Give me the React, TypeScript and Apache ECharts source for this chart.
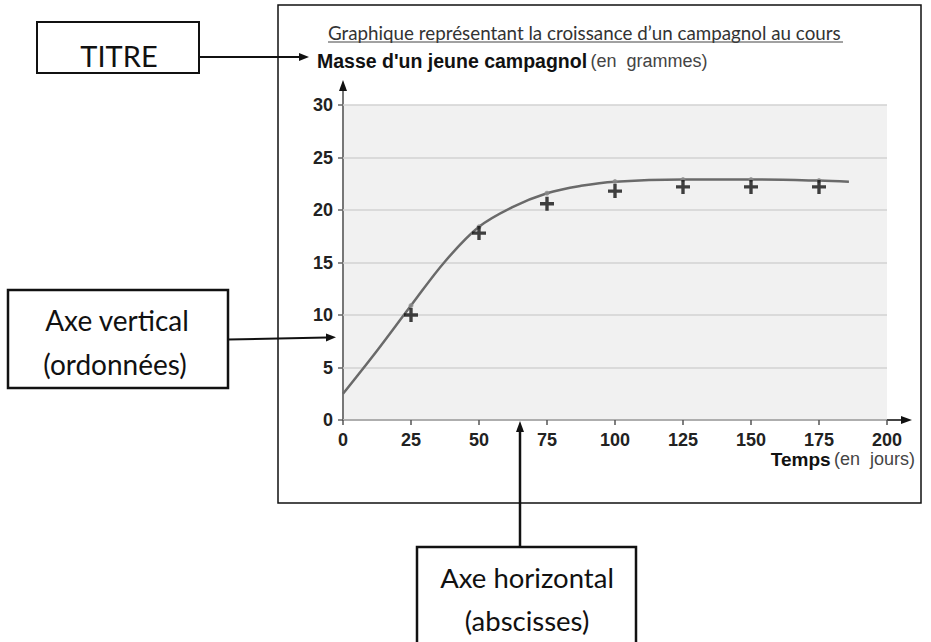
import React, { useEffect, useRef } from "react";
import * as echarts from "echarts";

// Measured points (crosses)
const days = [25, 50, 75, 100, 125, 150, 175];
const measuredMass = [10.0, 17.8, 20.6, 21.8, 22.2, 22.2, 22.2];

// Fitted growth curve
const curveDays = [0, 12.5, 25, 37.5, 50, 62.5, 75, 87.5, 100, 125, 150, 175, 186];
const curveMass = [2.5, 6.6, 10.9, 15.1, 18.4, 20.3, 21.6, 22.3, 22.7, 22.9, 22.9, 22.8, 22.7];
// Small dots drawn on the curve at the measurement days
const curveDotMass = [10.9, 18.4, 21.6, 22.7, 22.9, 22.9, 22.8];

const xMin = 0, xMax = 200, xStep = 25;
const yMin = 0, yMax = 30, yStep = 5;

const titleText = "Graphique représentant la croissance d’un campagnol au cours";
const yName = "Masse d'un jeune campagnol";
const yUnit = "(en  grammes)";
const xName = "Temps";
const xUnit = "(en  jours)";

const CROSS = "path://M3.8,0H6.2V3.8H10V6.2H6.2V10H3.8V6.2H0V3.8H3.8Z";
const ANNOT_FONT = "Lato, 'Open Sans', sans-serif";
const AXIS_FONT = "'Liberation Sans', Arial, sans-serif";

export default function App() {
  const ref = useRef<HTMLDivElement>(null);
  useEffect(() => {
    if (!ref.current) return;
    const chart = echarts.init(ref.current, undefined, { renderer: "svg" });
    const arrowHead = (pts: number[][], fill = "#111") => ({
      type: "polygon",
      shape: { points: pts },
      style: { fill },
      silent: true,
    });
    chart.setOption({
      animation: false,
      backgroundColor: "#ffffff",
      grid: {
        left: 343,
        right: 44,
        top: 105,
        bottom: 222,
        show: true,
        backgroundColor: "#f1f1f1",
        borderWidth: 0,
      },
      xAxis: {
        type: "value",
        min: xMin,
        max: xMax,
        interval: xStep,
        axisLine: { show: false },
        axisTick: { show: true, length: 5, lineStyle: { color: "#555", width: 1.5 } },
        splitLine: { show: false },
        axisLabel: {
          margin: 11,
          color: "#222",
          fontFamily: AXIS_FONT,
          fontWeight: "bold",
          fontSize: 18,
        },
      },
      yAxis: {
        type: "value",
        min: yMin,
        max: yMax,
        interval: yStep,
        axisLine: { show: false },
        axisTick: { show: true, length: 5, lineStyle: { color: "#666", width: 1.5 } },
        splitLine: { show: true, lineStyle: { color: "#d2d2d2", width: 1.5 } },
        axisLabel: {
          margin: 10,
          color: "#222",
          fontFamily: AXIS_FONT,
          fontWeight: "bold",
          fontSize: 18,
        },
      },
      series: [
        {
          type: "line",
          data: curveDays.map((d, i) => [d, curveMass[i]]),
          smooth: 0.35,
          showSymbol: false,
          lineStyle: { color: "#6a6a6a", width: 2.5 },
          z: 2,
        },
        {
          type: "scatter",
          data: days.map((d, i) => [d, curveDotMass[i]]),
          symbol: "circle",
          symbolSize: 5,
          itemStyle: { color: "#8a8a8a" },
          z: 3,
        },
        {
          type: "scatter",
          data: days.map((d, i) => [d, measuredMass[i]]),
          symbol: CROSS,
          symbolSize: 14,
          itemStyle: { color: "#111" },
          z: 4,
        },
      ],
      graphic: [
        // outer frame around the chart
        {
          type: "rect",
          shape: { x: 278, y: 5, width: 643, height: 498 },
          style: { fill: "none", stroke: "#111", lineWidth: 1.5 },
          z: 0,
        },
        // title
        {
          type: "text",
          x: 328,
          y: 32,
          style: {
            text: titleText,
            font: `18.8px ${ANNOT_FONT}`,
            fill: "#333",
            verticalAlign: "middle",
          },
        },
        {
          type: "line",
          shape: { x1: 328, y1: 42, x2: 843, y2: 42 },
          style: { stroke: "#444", lineWidth: 1 },
        },
        // y axis name
        {
          type: "text",
          x: 317,
          y: 61,
          style: {
            text: `{b|${yName}} {n|${yUnit}}`,
            verticalAlign: "middle",
            rich: {
              b: { fontFamily: AXIS_FONT, fontWeight: "bold", fontSize: 19.5, fill: "#111" },
              n: { fontFamily: AXIS_FONT, fontSize: 18, fill: "#444" },
            },
          },
        },
        // x axis name
        {
          type: "text",
          x: 915,
          y: 459,
          style: {
            text: `{b|${xName}} {n|${xUnit}}`,
            align: "right",
            verticalAlign: "middle",
            rich: {
              b: { fontFamily: AXIS_FONT, fontWeight: "bold", fontSize: 19, fill: "#111" },
              n: { fontFamily: AXIS_FONT, fontSize: 18, fill: "#444" },
            },
          },
        },
        // axes with arrows
        {
          type: "line",
          shape: { x1: 343, y1: 421, x2: 343, y2: 88 },
          style: { stroke: "#777", lineWidth: 2 },
        },
        arrowHead([[339, 91], [343, 80], [347, 91]]),
        {
          type: "line",
          shape: { x1: 342, y1: 420, x2: 903, y2: 420 },
          style: { stroke: "#444", lineWidth: 2 },
        },
        arrowHead([[901, 416], [912, 420], [901, 424]]),

        // Annotation: TITRE
        {
          type: "rect",
          shape: { x: 37, y: 22, width: 162, height: 51 },
          style: { fill: "#fff", stroke: "#111", lineWidth: 2 },
        },
        {
          type: "text",
          x: 119,
          y: 55,
          style: {
            text: "TITRE",
            font: `29px ${ANNOT_FONT}`,
            fill: "#111",
            align: "center",
            verticalAlign: "middle",
          },
        },
        {
          type: "line",
          shape: { x1: 199, y1: 57, x2: 300, y2: 57 },
          style: { stroke: "#111", lineWidth: 2 },
        },
        arrowHead([[299, 53], [309, 57], [299, 61]]),

        // Annotation: Axe vertical
        {
          type: "rect",
          shape: { x: 8, y: 290, width: 220, height: 98 },
          style: { fill: "#fff", stroke: "#111", lineWidth: 2.5 },
        },
        {
          type: "text",
          x: 117,
          y: 320,
          style: {
            text: "Axe vertical",
            font: `28px ${ANNOT_FONT}`,
            fill: "#111",
            align: "center",
            verticalAlign: "middle",
          },
        },
        {
          type: "text",
          x: 115,
          y: 364,
          style: {
            text: "(ordonnées)",
            font: `28px ${ANNOT_FONT}`,
            fill: "#111",
            align: "center",
            verticalAlign: "middle",
          },
        },
        {
          type: "line",
          shape: { x1: 228, y1: 339.5, x2: 327, y2: 337.5 },
          style: { stroke: "#111", lineWidth: 2 },
        },
        arrowHead([[326, 333.5], [336, 337.3], [326, 341.5]]),

        // Annotation: Axe horizontal
        {
          type: "rect",
          shape: { x: 417, y: 547, width: 219, height: 110 },
          style: { fill: "#fff", stroke: "#111", lineWidth: 2.5 },
        },
        {
          type: "text",
          x: 527,
          y: 577,
          style: {
            text: "Axe horizontal",
            font: `27.5px ${ANNOT_FONT}`,
            fill: "#111",
            align: "center",
            verticalAlign: "middle",
          },
        },
        {
          type: "text",
          x: 527,
          y: 620,
          style: {
            text: "(abscisses)",
            font: `27.5px ${ANNOT_FONT}`,
            fill: "#111",
            align: "center",
            verticalAlign: "middle",
          },
        },
        {
          type: "line",
          shape: { x1: 520, y1: 547, x2: 520, y2: 431 },
          style: { stroke: "#111", lineWidth: 2.5 },
        },
        arrowHead([[516, 432], [520, 421], [524, 432]]),
      ],
    });
    return () => chart.dispose();
  }, []);
  return (
    <div
      ref={ref}
      style={{ position: "absolute", left: 0, top: 0, width: 931, height: 642 }}
    />
  );
}
